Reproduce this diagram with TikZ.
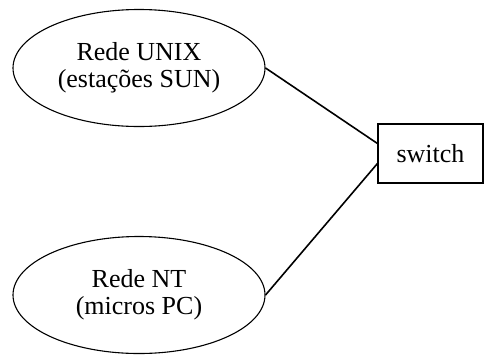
\documentclass[tikz,border=0pt]{standalone}
\usepackage{fontspec}
\setmainfont{Liberation Serif}
\usetikzlibrary{shapes.geometric}
\tikzset{
  rede/.style={draw,ellipse,line width=1.1pt,minimum width=252pt,minimum height=117pt,
    inner sep=0pt,align=center,font=\fontsize{26}{27}\selectfont},
  caixa/.style={draw,rectangle,line width=1.1pt,minimum width=105pt,minimum height=59pt,
    inner sep=0pt,font=\fontsize{26}{27}\selectfont},
  liga/.style={line width=1.6pt}
}
\begin{document}
\begin{tikzpicture}[x=1pt,y=-1pt]
\useasboundingbox(0,0)rectangle(484,354);
%redes
\node[rede](unix)at(139,68){Rede UNIX\\(estações SUN)};
\node[rede](nt)at(139,295){Rede NT\\(micros PC)};
%switch
\node[caixa](sw)at(430.5,153.5){switch};
%ligacoes
\draw[liga](unix.east)--([yshift=10pt]sw.west);
\draw[liga](nt.east)--([yshift=-10pt]sw.west);
\end{tikzpicture}
\end{document}
